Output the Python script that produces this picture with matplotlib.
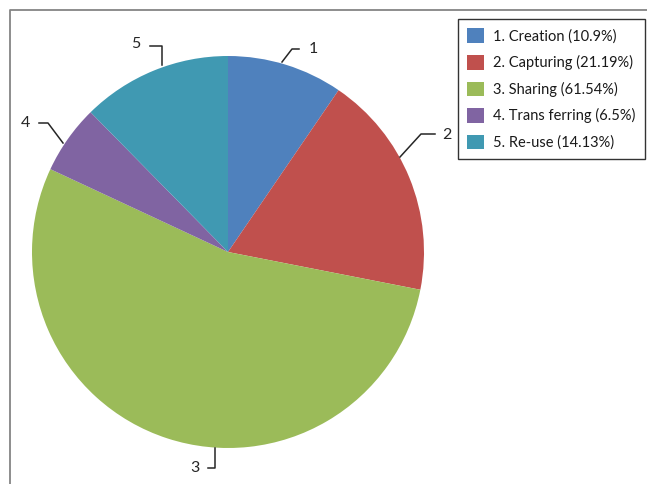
import matplotlib.pyplot as plt
import matplotlib.patches as mpatches

plt.rcParams["font.family"] = ["Lato", "DejaVu Sans"]

# data
labels = ["1. Creation (10.9%)", "2. Capturing (21.19%)", "3. Sharing (61.54%)",
          "4. Trans ferring (6.5%)", "5. Re-use (14.13%)"]
numbers = ["1", "2", "3", "4", "5"]
values = [10.9, 21.19, 61.54, 6.5, 14.13]
colors = ["#4F81BD", "#C0504D", "#9BBB59", "#8064A2", "#4099B2"]

W, H = 647, 484
fig = plt.figure(figsize=(W / 100, H / 100), dpi=100)
ax = fig.add_axes([0, 0, 1, 1])

cx, cy, r = 228, H - 252, 196
ax.pie(values, colors=colors, startangle=90, counterclock=False,
       center=(cx, cy), radius=r, frame=True, wedgeprops=dict(linewidth=0))
ax.set_xlim(0, W)
ax.set_ylim(0, H)
ax.set_aspect("equal")
ax.axis("off")

# leader lines + number labels (pixel positions, y from top)
leaders = [
    ([(282, 62), (292, 49), (299, 49)], (313, 49)),
    ([(400, 157), (421, 134), (435, 134)], (447, 135)),
    ([(215, 448), (215, 468), (208, 468)], (195, 468)),
    ([(63, 143), (48, 123), (39, 123)], (25, 123)),
    ([(162, 65), (162, 46), (150, 46)], (136, 44)),
]
for num, (pts, txt) in zip(numbers, leaders):
    xs = [p[0] for p in pts]
    ys = [H - p[1] for p in pts]
    ax.plot(xs, ys, color="#262626", lw=1.1)
    ax.text(txt[0], H - txt[1], num, fontsize=11.5, color="#262626",
            ha="center", va="center")

# chart border (only top and left visible)
ax.plot([10, 10, W], [0, H - 10, H - 10], color="#858585", lw=1.3, clip_on=False)

handles = [mpatches.Patch(facecolor=c, edgecolor="none") for c in colors]
leg = fig.legend(handles, labels, loc="upper left",
                 bbox_to_anchor=(458 / W, 1 - 19 / H), bbox_transform=fig.transFigure,
                 borderaxespad=0, fontsize=10.5, frameon=True, fancybox=False,
                 edgecolor="#000000", handlelength=1.15, handleheight=1.15,
                 handletextpad=0.6, labelspacing=0.78, borderpad=0.65)
leg.get_frame().set_linewidth(1.0)
for t in leg.get_texts():
    t.set_color("#1a1a1a")

plt.savefig("out.png", dpi=100)
